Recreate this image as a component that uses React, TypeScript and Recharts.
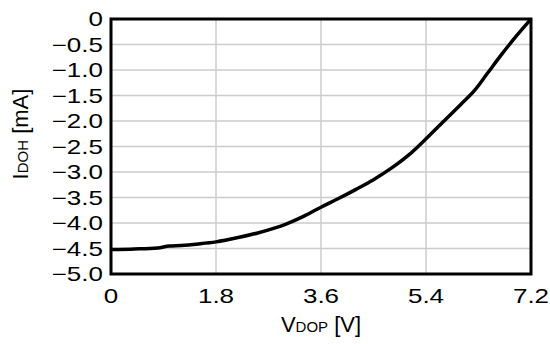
import {
  LineChart,
  Line,
  XAxis,
  YAxis,
  CartesianGrid,
  ReferenceArea,
  Label,
} from "recharts";

const vdop = [
  0, 0.4, 0.8, 1.0, 1.2, 1.5, 1.8, 2.2, 2.5, 2.8, 3.0, 3.3, 3.6, 3.9, 4.2,
  4.5, 4.8, 5.1, 5.4, 5.7, 6.0, 6.24, 6.45, 6.7, 6.95, 7.2,
];
const idoh = [
  -4.52, -4.51, -4.49, -4.45, -4.44, -4.41, -4.37, -4.28, -4.2, -4.1, -4.02,
  -3.87, -3.69, -3.52, -3.34, -3.15, -2.93, -2.67, -2.35, -2.01, -1.67, -1.39,
  -1.07, -0.69, -0.33, 0,
];
const xTicks = [0, 1.8, 3.6, 5.4, 7.2];
const yTicks = [0, -0.5, -1, -1.5, -2, -2.5, -3, -3.5, -4, -4.5, -5];

const data = vdop.map((v, i) => ({ v, i: idoh[i] }));

const font = "'Liberation Sans', Arial, sans-serif";

const fmtY = (v: number) => (v === 0 ? "0" : "\u2212" + Math.abs(v).toFixed(1));
const fmtX = (v: number) => (v === 0 ? "0" : v.toFixed(1));

// tick text in the original is drawn a bit wide, so stretch it
function XTick(props: any) {
  const { x, y, payload } = props;
  return (
    <text
      transform={`translate(${x},${y}) scale(1.3,1)`}
      textAnchor="middle"
      dy="0.71em"
      fill="#000"
      fontFamily={font}
      fontSize={20}
    >
      {fmtX(payload.value)}
    </text>
  );
}

function YTick(props: any) {
  const { x, y, payload } = props;
  return (
    <text
      transform={`translate(${x},${y}) scale(1.3,1)`}
      textAnchor="end"
      dy="0.355em"
      fill="#000"
      fontFamily={font}
      fontSize={20}
    >
      {fmtY(payload.value)}
    </text>
  );
}

export default function App() {
  return (
    <div style={{ position: "absolute", left: 0, top: 0, background: "#fff" }}>
      <LineChart
        width={550}
        height={344}
        data={data}
        margin={{ top: 19, right: 19, bottom: 0, left: 0 }}
      >
        <CartesianGrid stroke="#cccccc" strokeWidth={1.5} />
        <XAxis
          dataKey="v"
          type="number"
          domain={[0, 7.2]}
          ticks={xTicks}
          interval={0}
          tickLine={false}
          axisLine={false}
          height={70}
          tickMargin={9}
          tick={<XTick />}
        >
          <Label
            content={() => (
              <text x={321} y={332} textAnchor="middle" fill="#000" fontFamily={font} fontSize={22}>
                V
                <tspan fontSize={15}>DOP</tspan>
                <tspan> [V]</tspan>
              </text>
            )}
          />
        </XAxis>
        <YAxis
          dataKey="i"
          type="number"
          domain={[-5, 0]}
          ticks={yTicks}
          interval={0}
          tickLine={false}
          axisLine={false}
          width={111}
          tickMargin={2}
          tick={<YTick />}
        >
          <Label
            content={() => (
              <text
                x={28}
                y={134}
                textAnchor="middle"
                fill="#000"
                fontFamily={font}
                fontSize={22}
                transform="rotate(-90 28 134)"
              >
                I
                <tspan fontSize={15}>DOH</tspan>
                <tspan> [mA]</tspan>
              </text>
            )}
          />
        </YAxis>
        <ReferenceArea
          x1={0}
          x2={7.2}
          y1={-5}
          y2={0}
          fill="none"
          stroke="#000"
          strokeWidth={3}
          ifOverflow="visible"
        />
        <Line
          type="monotone"
          dataKey="i"
          stroke="#000"
          strokeWidth={3.5}
          dot={false}
          isAnimationActive={false}
        />
      </LineChart>
    </div>
  );
}
